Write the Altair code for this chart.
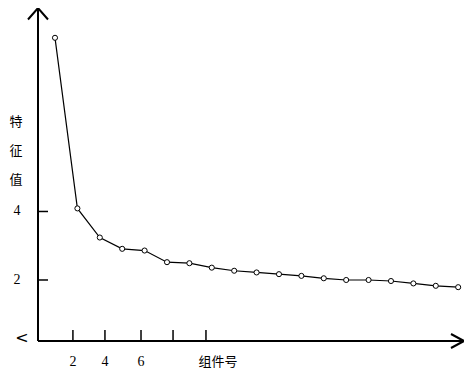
import altair as alt
import pandas as pd

# ---- data ----
components = list(range(1, 20))
eigenvalues = [9.07, 4.09, 3.24, 2.91, 2.86, 2.52, 2.49, 2.36, 2.27, 2.22,
               2.17, 2.12, 2.05, 2.00, 2.00, 1.97, 1.90, 1.83, 1.79]
x_tick_pos = [1.80, 3.23, 4.84, 6.27, 7.74]
x_tick_labels = ["2", "4", "6", "", ""]
y_tick_vals = [2, 4]
y_tick_labels = ["2", "4"]
y_title_chars = ["特", "征", "值"]
x_title = "组件号"
origin_label = "<"

W, H = 426, 333
xs = alt.Scale(domain=[0.241, 19.26], nice=False, zero=False)
ys = alt.Scale(domain=[0.219, 9.94], nice=False, zero=False)

df = pd.DataFrame({"comp": components, "eig": eigenvalues})
xt = pd.DataFrame({"pos": x_tick_pos, "lab": x_tick_labels})
yt = pd.DataFrame({"val": y_tick_vals, "lab": y_tick_labels})
one = pd.DataFrame({"k": [0]})

base = alt.Chart(df)
line = base.mark_line(color="black", strokeWidth=1.2).encode(
    x=alt.X("comp:Q", scale=xs, axis=None),
    y=alt.Y("eig:Q", scale=ys, axis=None),
)
pts = base.mark_point(shape="circle", filled=True, fill="white", stroke="black",
                      strokeWidth=1, size=26, opacity=1).encode(
    x=alt.X("comp:Q", scale=xs, axis=None),
    y=alt.Y("eig:Q", scale=ys, axis=None),
)

# axes lines
deco = alt.Chart(one)
yaxis = deco.mark_rule(color="black", strokeWidth=2).encode(
    x=alt.value(0), y=alt.value(1), y2=alt.value(H))
xaxis = deco.mark_rule(color="black", strokeWidth=2).encode(
    x=alt.value(0), x2=alt.value(W - 1), y=alt.value(H))
up_arrow = deco.mark_point(
    shape="M-1,0.15L0,-1L1,0.15", filled=False, stroke="black", strokeWidth=2,
    size=400, opacity=1, strokeJoin="miter").encode(x=alt.value(0), y=alt.value(10))
right_arrow = deco.mark_point(
    shape="M-1,-0.7L0.3,0L-1,0.7", filled=False, stroke="black", strokeWidth=2,
    size=400, opacity=1, strokeJoin="miter").encode(x=alt.value(W - 3), y=alt.value(H))

# ticks
xticks = alt.Chart(xt).mark_rule(color="black", strokeWidth=1.5).encode(
    x=alt.X("pos:Q", scale=xs, axis=None), y=alt.value(H - 11), y2=alt.value(H))
xlabels = alt.Chart(xt).mark_text(font="Liberation Serif", fontSize=14, baseline="middle",
                                  align="center", color="black").encode(
    x=alt.X("pos:Q", scale=xs, axis=None), y=alt.value(H + 21), text="lab:N")
yticks = alt.Chart(yt).mark_rule(color="black", strokeWidth=1.5).encode(
    y=alt.Y("val:Q", scale=ys, axis=None), x=alt.value(0), x2=alt.value(10))
ylabels = alt.Chart(yt).mark_text(font="Liberation Serif", fontSize=14, baseline="middle",
                                  align="center", color="black").encode(
    y=alt.Y("val:Q", scale=ys, axis=None), x=alt.value(-21), text="lab:N")

# titles
ytitle = deco.mark_text(font="Noto Sans CJK SC", fontSize=13, lineHeight=29,
                        baseline="middle", align="center", color="black").encode(
    x=alt.value(-22), y=alt.value(114), text=alt.value(y_title_chars))
xtitle_m = deco.mark_text(font="Noto Sans CJK SC", fontSize=13, baseline="middle",
                          align="center", color="black").encode(
    x=alt.value(180), y=alt.value(H + 21), text=alt.value(x_title))
origin = deco.mark_text(font="DejaVu Sans", fontSize=16, baseline="middle",
                        align="center", color="black").encode(
    x=alt.value(-16), y=alt.value(H - 3), text=alt.value(origin_label))

chart = alt.layer(line, pts, yaxis, xaxis, up_arrow, right_arrow, xticks, xlabels,
                  yticks, ylabels, ytitle, xtitle_m, origin).properties(
    width=W, height=H,
    autosize=alt.AutoSizeParams(type="none"),
    padding={"left": 30, "top": 0, "right": 0, "bottom": 29},
    background="white",
).configure_view(stroke=None)

chart.save("out.html", embed_options={"renderer": "svg", "actions": False})
